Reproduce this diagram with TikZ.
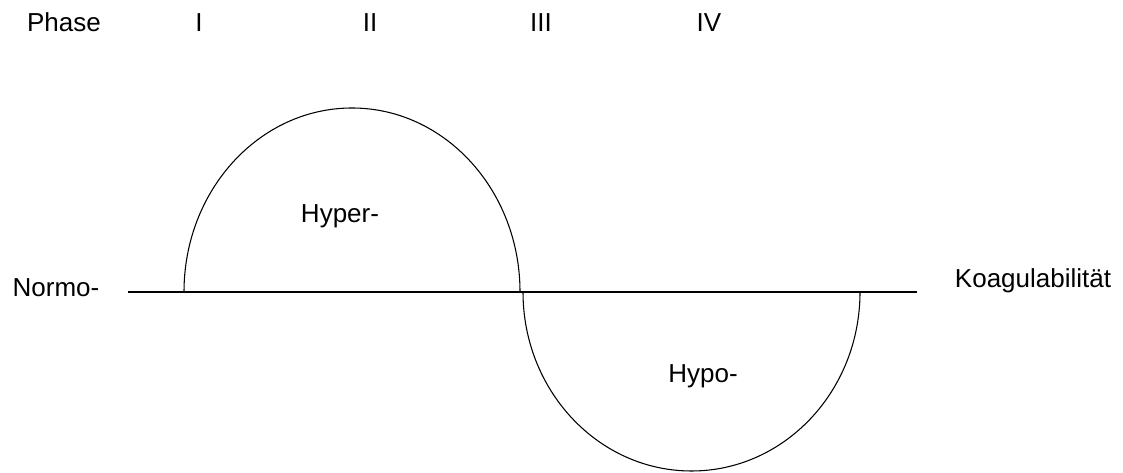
\documentclass[tikz,border=0pt]{standalone}
\usepackage{fontspec}
\setmainfont{Liberation Sans}
\usepackage{tikz}
\usetikzlibrary{positioning}
\tikzset{
  lbl/.style={anchor=base,inner sep=0pt,font=\fontsize{19.5}{23}\selectfont},
  axis/.style={draw=black,line width=0.8pt},
  curve/.style={draw=black,line width=0.8pt},
}

\begin{document}
\begin{tikzpicture}[x=0.75pt,y=0.75pt]
  \useasboundingbox (0,0) rectangle (1123,473);
  % phase row
  \node[lbl] (phase) at (64,441) {Phase};
  \node[lbl] (p1) at (199,441) {I};
  \node[lbl] (p2) at (370,441) {II};
  \node[lbl] (p3) at (541,441) {III};
  \node[lbl] (p4) at (709,441) {IV};
  % base line
  \node[lbl] (normo) at (56,176) {Normo-};
  \node[lbl] (koag) at (1033,185) {Koagulabilität};
  \coordinate (l0) at (128,181);
  \coordinate (l1) at (917,181);
  \draw[axis] (l0) -- (l1);
  % hyper / hypo
  \coordinate (a0) at (184,181);
  \coordinate (b0) at (523,181);
  \draw[curve] (a0) arc[start angle=180,end angle=0,x radius=168,y radius=184];
  \draw[curve] (b0) arc[start angle=180,end angle=360,x radius=168.5,y radius=179];
  \node[lbl] (hyper) at (340,250) {Hyper-};
  \node[lbl] (hypo) at (703,90) {Hypo-};
\end{tikzpicture}
\end{document}
